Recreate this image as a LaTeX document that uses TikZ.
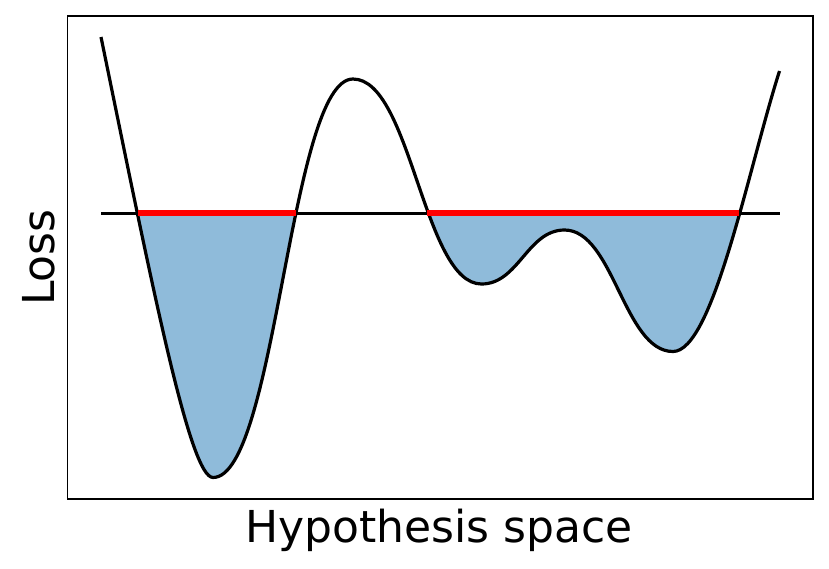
\documentclass[tikz,border=0pt]{standalone}
\usepackage{fontspec}
\setmainfont{DejaVu Sans}
\definecolor{basin}{HTML}{8FBBDA}
\definecolor{lvlred}{HTML}{FF0000}
\begin{document}
\begin{tikzpicture}[x=1pt,y=-1pt,
  curvestyle/.style={line width=3.2pt,black,line join=round},
  levelstyle/.style={line width=3pt,black},
  redstyle/.style={line width=6pt,lvlred},
  framestyle/.style={line width=1.6pt,black},
  labelstyle/.style={font=\fontsize{44}{50}\selectfont,inner sep=0pt}]
\useasboundingbox (0,0) rectangle (829,568);
% key coordinates
\coordinate (s) at (101,37);
\coordinate (m1) at (213,477.5);
\coordinate (M1) at (353,79);
\coordinate (m2) at (481.5,284);
\coordinate (M2) at (564.5,230);
\coordinate (m3) at (673,351.5);
\coordinate (e) at (779.5,71);
\coordinate (la) at (101,213);
\coordinate (lb) at (780,213);
\coordinate (r1a) at (138,213);
\coordinate (r1b) at (295.5,213);
\coordinate (r2a) at (427,213);
\coordinate (r2b) at (739,213);
% basins fill
\begin{scope}
\clip (0,213) rectangle (829,568);
\fill[basin] (s) .. controls (153,290) and (190,477.5) .. (m1)
  .. controls (276,477.5) and (290,79) .. (M1)
  .. controls (411,79) and (423.5,284) .. (m2)
  .. controls (518.5,284) and (527.5,230) .. (M2)
  .. controls (613.5,230) and (624,351.5) .. (m3)
  .. controls (713,351.5) and (748,170) .. (e) -- cycle;
\end{scope}
% curve
\draw[curvestyle] (s) .. controls (153,290) and (190,477.5) .. (m1)
  .. controls (276,477.5) and (290,79) .. (M1)
  .. controls (411,79) and (423.5,284) .. (m2)
  .. controls (518.5,284) and (527.5,230) .. (M2)
  .. controls (613.5,230) and (624,351.5) .. (m3)
  .. controls (713,351.5) and (748,170) .. (e);
% level line
\draw[levelstyle] (la) -- (lb);
\draw[redstyle] (r1a) -- (r1b) (r2a) -- (r2b);
% frame
\draw[framestyle] (67.5,16) rectangle (813,499);
% labels
\node[labelstyle,anchor=base] (xl) at (439,542.5) {Hypothesis space};
\node[labelstyle,anchor=base,rotate=90] (yl) at (54,257.5) {Loss};
\end{tikzpicture}
\end{document}
